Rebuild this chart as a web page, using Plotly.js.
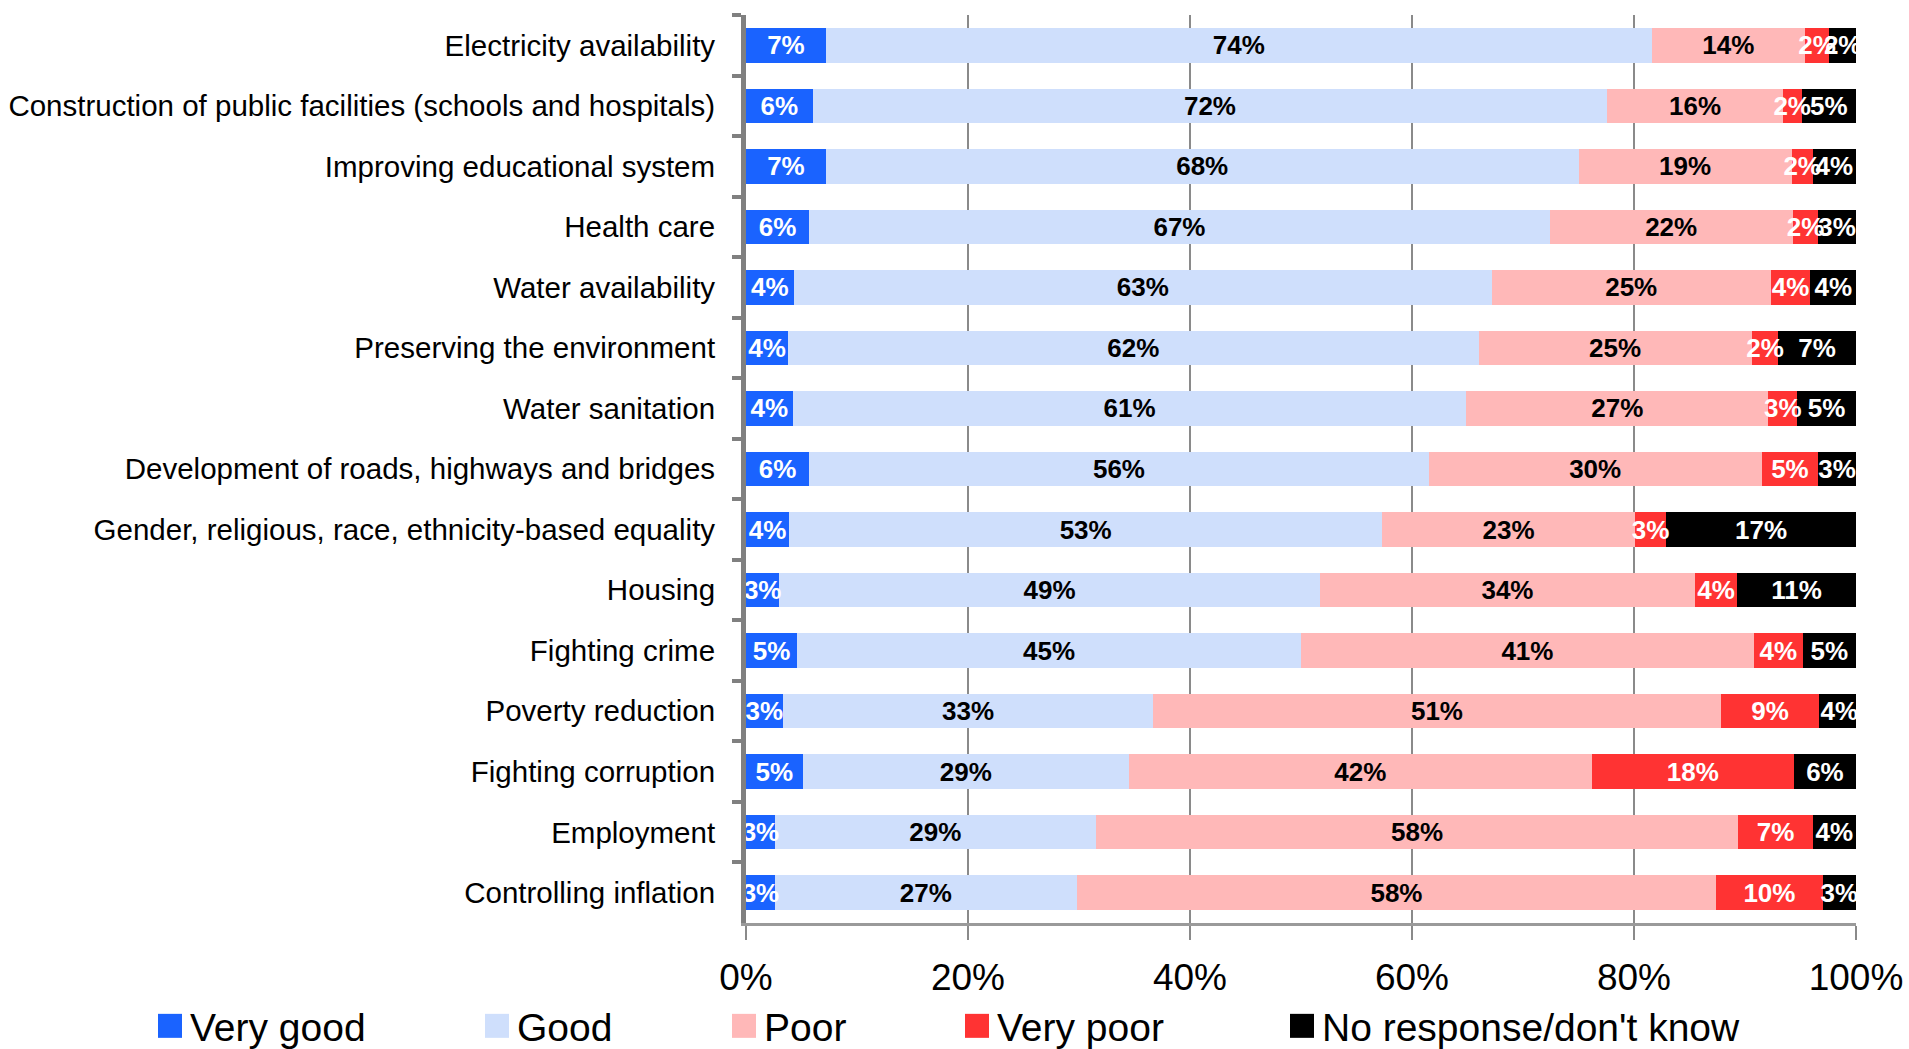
<!DOCTYPE html>
<html>
<head>
<meta charset="utf-8">
<script src="https://cdn.plot.ly/plotly-3.0.1.min.js"></script>
<style>
  html, body { margin: 0; padding: 0; background: #ffffff; }
  #chart { width: 1909px; height: 1049px; }
</style>
</head>
<body>
<div id="chart"></div>
<script>
// ---------------- DATA ----------------
const categories = [
  "Electricity availability",
  "Construction of public facilities (schools and hospitals)",
  "Improving educational system",
  "Health care",
  "Water availability",
  "Preserving the environment",
  "Water sanitation",
  "Development of roads, highways and bridges",
  "Gender, religious, race, ethnicity-based equality",
  "Housing",
  "Fighting crime",
  "Poverty reduction",
  "Fighting corruption",
  "Employment",
  "Controlling inflation"
];

const seriesNames = ["Very good", "Good", "Poor", "Very poor", "No response/don't know"];

const veryGood   = [7.2, 6.0, 7.2, 5.7, 4.3, 3.8, 4.2, 5.7, 3.9, 3.0, 4.6, 3.3, 5.1, 2.6, 2.6];
const good       = [74.4, 71.6, 67.8, 66.7, 62.9, 62.2, 60.7, 55.8, 53.4, 48.7, 45.4, 33.4, 29.4, 28.9, 27.2];
const poor       = [13.8, 15.8, 19.2, 21.9, 25.1, 24.6, 27.2, 30.0, 22.8, 33.8, 40.8, 51.1, 41.7, 57.9, 57.6];
const veryPoor   = [2.2, 1.7, 1.9, 2.3, 3.6, 2.4, 2.6, 5.1, 2.8, 3.8, 4.4, 8.9, 18.2, 6.7, 9.6];
const noResponse = [2.4, 4.9, 3.9, 3.4, 4.1, 7.0, 5.3, 3.4, 17.1, 10.7, 4.8, 3.6, 5.6, 3.9, 3.0];

const xTickValues = [0, 20, 40, 60, 80, 100];
const xTickLabels = ["0%", "20%", "40%", "60%", "80%", "100%"];

// ---------------- STYLE ----------------
const FONT = "'Liberation Sans', Arial, sans-serif";
const seriesValues = [veryGood, good, poor, veryPoor, noResponse];
const barColors   = ["#1A63FF", "#CFDFFC", "#FFB8B8", "#FF3333", "#000000"];
const labelColors = ["#ffffff", "#000000", "#000000", "#ffffff", "#ffffff"];
const legendIds   = ["legend", "legend2", "legend3", "legend4", "legend5"];
const legendLeftPx = [150, 477, 724, 957, 1282];

// stacked bars
const barTraces = seriesNames.map((name, i) => ({
  type: "bar",
  orientation: "h",
  name: name,
  y: categories,
  x: seriesValues[i],
  marker: { color: barColors[i], line: { width: 0 } },
  textposition: "none",
  hoverinfo: "skip",
  legend: legendIds[i]
}));

// value labels centred in each segment (positions derived from the data)
const labelTraces = seriesNames.map((name, i) => {
  const mids = seriesValues[i].map((v, j) => {
    let start = 0;
    for (let k = 0; k < i; k++) start += seriesValues[k][j];
    return start + v / 2;
  });
  return {
    type: "scatter",
    mode: "text",
    x: mids,
    y: categories,
    text: seriesValues[i].map(v => Math.round(v) + "%"),
    textposition: "middle center",
    textfont: { family: FONT, size: 26, color: labelColors[i], weight: "bold" },
    cliponaxis: false,
    showlegend: false,
    hoverinfo: "skip"
  };
});

const layout = {
  width: 1909,
  height: 1049,
  paper_bgcolor: "#ffffff",
  plot_bgcolor: "#ffffff",
  font: { family: FONT, color: "#000000" },
  barmode: "stack",
  bargap: 0.43,
  margin: { l: 746, r: 53, t: 15, b: 126, pad: 0, autoexpand: false },
  showlegend: true,
  xaxis: {
    range: [0, 100],
    autorange: false,
    tickmode: "array",
    tickvals: xTickValues,
    ticktext: xTickLabels,
    showgrid: true,
    gridcolor: "#8a8a8a",
    gridwidth: 1.5,
    zeroline: false,
    ticks: "outside",
    ticklen: 14,
    tickwidth: 1.5,
    tickcolor: "#8a8a8a",
    showline: true,
    linecolor: "#9a9a9a",
    linewidth: 3,
    tickfont: { family: FONT, size: 37, color: "#000000" },
    ticklabelstandoff: 6,
    automargin: false,
    fixedrange: true
  },
  yaxis: {
    type: "category",
    categoryorder: "array",
    categoryarray: categories,
    range: [categories.length - 0.5, -0.5],
    autorange: false,
    tickson: "boundaries",
    ticks: "outside",
    ticklen: 9,
    tickwidth: 4,
    tickcolor: "#808080",
    showline: true,
    linecolor: "#808080",
    linewidth: 5,
    showgrid: false,
    zeroline: false,
    tickfont: { family: FONT, size: 29.5, color: "#000000" },
    ticklabelstandoff: 20,
    automargin: false,
    fixedrange: true
  }
};

legendIds.forEach((id, i) => {
  layout[id] = {
    orientation: "h",
    xref: "container",
    yref: "container",
    x: legendLeftPx[i] / 1909,
    xanchor: "left",
    y: 1 - 1026 / 1049,
    yanchor: "middle",
    bgcolor: "rgba(0,0,0,0)",
    borderwidth: 0,
    font: { family: FONT, size: 39, color: "#000000" },
    itemclick: false,
    itemdoubleclick: false
  };
});

Plotly.newPlot("chart", barTraces.concat(labelTraces), layout, { displayModeBar: false, staticPlot: true }).then(() => {
  document.querySelectorAll("#chart .legendpoints path").forEach(p => {
    p.setAttribute("d", "M12,12H-12V-12H12Z");
  });
  // nudge the bar value labels down so they sit on the bar's vertical centre
  document.querySelectorAll("#chart .scatterlayer .textpoint text").forEach(t => {
    const y = parseFloat(t.getAttribute("y"));
    if (!isNaN(y)) t.setAttribute("y", y + 2.5);
  });
});
</script>
</body>
</html>
